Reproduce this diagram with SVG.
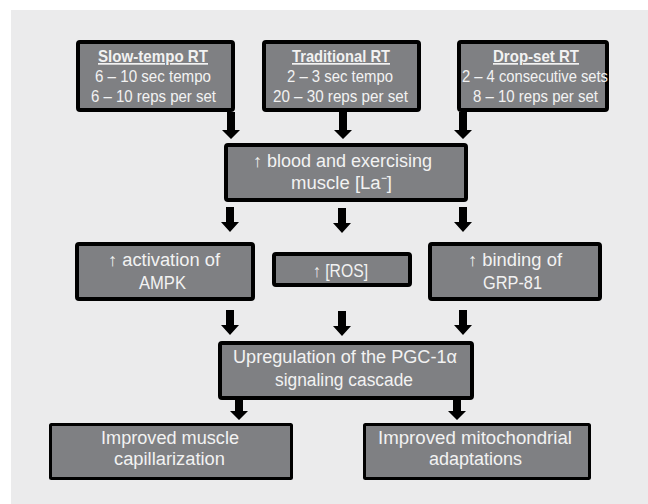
<svg xmlns="http://www.w3.org/2000/svg" width="648" height="504" viewBox="0 0 648 504">
<style>
.box{fill:#7f8083;stroke:#000;stroke-width:4;}
.thin{stroke-width:3;}
.t{font-family:"Liberation Sans",Arial,sans-serif;font-size:18px;fill:#f2f2f2;}
.s{font-size:17px;}
.h{font-weight:bold;text-decoration:underline;}
.arr{fill:#000;}
</style>
<rect x="0" y="0" width="648" height="504" fill="#ffffff"/>
<rect x="11" y="10" width="637" height="494" fill="#ebebec"/>

<g id="slow">
<rect class="box" x="78" y="42" width="155" height="68" rx="2"/>
<text class="t s"><tspan class="h" x="98" y="62" textLength="110" lengthAdjust="spacingAndGlyphs">Slow-tempo RT</tspan></text>
<text class="t s"><tspan x="95" y="82" textLength="116" lengthAdjust="spacingAndGlyphs">6 – 10 sec tempo</tspan></text>
<text class="t s"><tspan x="91" y="102" textLength="125" lengthAdjust="spacingAndGlyphs">6 – 10 reps per set</tspan></text>
</g>
<g id="traditional">
<rect class="box" x="264" y="42" width="155" height="68" rx="2"/>
<text class="t s"><tspan class="h" x="292" y="62" textLength="98" lengthAdjust="spacingAndGlyphs">Traditional RT</tspan></text>
<text class="t s"><tspan x="287" y="82" textLength="106" lengthAdjust="spacingAndGlyphs">2 – 3 sec tempo</tspan></text>
<text class="t s"><tspan x="273" y="102" textLength="135" lengthAdjust="spacingAndGlyphs">20 – 30 reps per set</tspan></text>
</g>
<g id="dropset">
<rect class="box" x="459" y="42" width="148" height="68" rx="2"/>
<text class="t s"><tspan class="h" x="493" y="62" textLength="86" lengthAdjust="spacingAndGlyphs">Drop-set RT</tspan></text>
<text class="t s"><tspan x="462" y="82" textLength="146" lengthAdjust="spacingAndGlyphs">2 – 4 consecutive sets</tspan></text>
<text class="t s"><tspan x="473" y="102" textLength="125" lengthAdjust="spacingAndGlyphs">8 – 10 reps per set</tspan></text>
</g>
<g id="lactate">
<rect class="box" x="226" y="145" width="240" height="55" rx="2"/>
<text class="t"><tspan x="253" y="167" textLength="179" lengthAdjust="spacingAndGlyphs">↑ blood and exercising</tspan></text>
<text class="t"><tspan x="291" y="189" textLength="101" lengthAdjust="spacingAndGlyphs">muscle [La⁻]</tspan></text>
</g>
<g id="ampk">
<rect class="box" x="77" y="244" width="176" height="55" rx="2"/>
<text class="t"><tspan x="108" y="266" textLength="112" lengthAdjust="spacingAndGlyphs">↑ activation of</tspan></text>
<text class="t"><tspan x="139" y="289" textLength="47" lengthAdjust="spacingAndGlyphs">AMPK</tspan></text>
</g>
<g id="ros">
<rect class="box" x="274" y="254" width="136" height="31" rx="2"/>
<text class="t"><tspan x="313" y="277" textLength="55" lengthAdjust="spacingAndGlyphs">↑ [ROS]</tspan></text>
</g>
<g id="grp81">
<rect class="box" x="430" y="244" width="170" height="55" rx="2"/>
<text class="t"><tspan x="468" y="266" textLength="94" lengthAdjust="spacingAndGlyphs">↑ binding of</tspan></text>
<text class="t"><tspan x="483" y="289" textLength="59" lengthAdjust="spacingAndGlyphs">GRP-81</tspan></text>
</g>
<g id="pgc">
<rect class="box" x="220" y="343" width="252" height="55" rx="2"/>
<text class="t"><tspan x="233" y="363" textLength="224" lengthAdjust="spacingAndGlyphs">Upregulation of the PGC-1α</tspan></text>
<text class="t"><tspan x="275" y="386" textLength="138" lengthAdjust="spacingAndGlyphs">signaling cascade</tspan></text>
</g>
<g id="capillarization">
<rect class="box thin" x="50.5" y="424.5" width="241" height="54" rx="1"/>
<text class="t"><tspan x="101" y="444" textLength="138" lengthAdjust="spacingAndGlyphs">Improved muscle</tspan></text>
<text class="t"><tspan x="114" y="465" textLength="111" lengthAdjust="spacingAndGlyphs">capillarization</tspan></text>
</g>
<g id="mitochondrial">
<rect class="box thin" x="364.5" y="424.5" width="225" height="54" rx="1"/>
<text class="t"><tspan x="378" y="444" textLength="194" lengthAdjust="spacingAndGlyphs">Improved mitochondrial</tspan></text>
<text class="t"><tspan x="429" y="465" textLength="93" lengthAdjust="spacingAndGlyphs">adaptations</tspan></text>
</g>

<g id="connectors" class="arr">
<polygon points="227,112 235,112 235,130 240,130 231,139 222,130 227,130"/>
<polygon points="339,112 347,112 347,130 352,130 343,139 334,130 339,130"/>
<polygon points="459,112 467,112 467,130 472,130 463,139 454,130 459,130"/>

<polygon points="226,207 234,207 234,222 239,222 230,232 221,222 226,222"/>
<polygon points="338,208 346,208 346,223 351,223 342,233 333,223 338,223"/>
<polygon points="459,207 467,207 467,222 472,222 463,232 454,222 459,222"/>

<polygon points="226,310 234,310 234,325 239,325 230,335 221,325 226,325"/>
<polygon points="338,311 346,311 346,326 351,326 342,336 333,326 338,326"/>
<polygon points="459,310 467,310 467,325 472,325 463,335 454,325 459,325"/>

<polygon points="235,399 243,399 243,411 248,411 239,420 230,411 235,411"/>
<polygon points="453,399 461,399 461,411 466,411 457,420 448,411 453,411"/>
</g>
</svg>
